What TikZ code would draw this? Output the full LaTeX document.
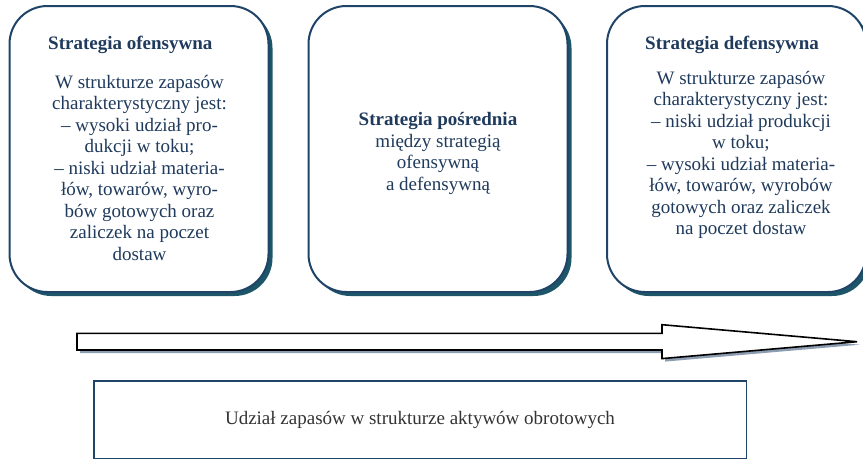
\documentclass[tikz,border=0pt]{standalone}
\usepackage{fontspec}
\setmainfont{Liberation Serif}
\usetikzlibrary{shadows}

\definecolor{boxnavy}{HTML}{1F4468}
\definecolor{boxteal}{HTML}{1E5669}
\definecolor{textnavy}{HTML}{1F3A5C}
\definecolor{arrowshade}{HTML}{8C9DB2}
\definecolor{sharegray}{HTML}{333333}

\begin{document}
\begin{tikzpicture}[x=1pt, y=-1pt,
    stratbox/.style={draw=boxnavy, line width=2pt, rounded corners=38pt, fill=white,
        minimum width=259pt, minimum height=286pt,
        drop shadow={shadow xshift=4pt, shadow yshift=-4pt, fill=boxteal, opacity=1}},
    stratext/.style={text=textnavy, inner sep=0pt, align=center, anchor=base,
        font=\fontsize{19}{21.5}\selectfont},
    strathead/.style={stratext, anchor=base west, font=\fontsize{19}{21.5}\selectfont\bfseries}]
    \useasboundingbox (0,0) rectangle (863,461);

    % Boxes
    \node[stratbox] (ofens) at (139,149) {};
    \node[stratbox] (posr) at (438,149) {};
    \node[stratbox] (defens) at (736.5,149) {};

    % Texts (base = last line)
    \node[strathead] (ofenshead) at (48,49) {Strategia ofensywna};
    \node[stratext] (ofensbody) at (139.5,260) {W strukturze zapasów\\
        charakterystyczny jest:\\ – wysoki udział pro-\\ dukcji w toku;\\
        – niski udział materia-\\ łów, towarów, wyro-\\ bów gotowych oraz\\
        zaliczek na poczet\\ dostaw};
    \node[stratext] (posrbody) at (438,190) {\textbf{Strategia pośrednia}\\
        między strategią\\ ofensywną\\ a defensywną};
    \node[strathead] (defenshead) at (645,49) {Strategia defensywna};
    \node[stratext] (defensbody) at (741,234.5) {W strukturze zapasów\\
        charakterystyczny jest:\\ – niski udział produkcji\\ w toku;\\
        – wysoki udział materia-\\ łów, towarów, wyrobów\\ gotowych oraz zaliczek\\
        na poczet dostaw};

    % Arrow
    \draw[line width=1.6pt, fill=white, line join=miter,
        drop shadow={shadow xshift=3pt, shadow yshift=-3pt, fill=arrowshade, opacity=1}]
        (77,333.4) -- (662,333.4) -- (662,324.7) -- (857,341.7) -- (662,358.6)
        -- (662,350) -- (77,350) -- cycle;

    % Share
    \node[draw=boxnavy, line width=1.5pt, minimum width=652.5pt, minimum height=77.5pt,
        text=sharegray, font=\fontsize{19}{21.5}\selectfont] (share) at (420,419.5)
        {Udział zapasów w strukturze aktywów obrotowych};
\end{tikzpicture}
\end{document}
